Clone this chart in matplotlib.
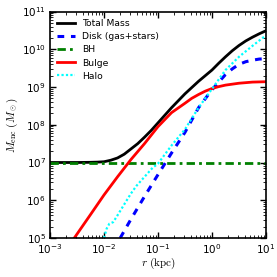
import numpy as np
import matplotlib
matplotlib.use("Agg")
import matplotlib.pyplot as plt

# log10(r / kpc) sample points and log10(M / Msun) values
total_logr = [-3.0, -2.5, -2.25, -2.125, -2.0, -1.875, -1.75, -1.625, -1.5, -1.375, -1.25, -1.125, -1.0,
              -0.75, -0.5, -0.25, 0.0, 0.125, 0.25, 0.375, 0.5, 0.625, 0.75, 0.875, 1.0]
total_logm = [7.0, 7.0, 7.005, 7.01, 7.02, 7.06, 7.12, 7.22, 7.36, 7.50, 7.67, 7.85, 8.05,
              8.45, 8.82, 9.15, 9.45, 9.63, 9.80, 9.96, 10.10, 10.22, 10.32, 10.41, 10.49]

disk_logr = [-1.70, -1.5, -1.25, -1.0, -0.75, -0.5, -0.25, 0.0, 0.25, 0.375, 0.5, 0.625, 0.75, 0.875, 1.0]
disk_logm = [5.0, 5.50, 6.10, 6.68, 7.25, 7.80, 8.45, 8.93, 9.33, 9.48, 9.60, 9.67, 9.71, 9.74, 9.75]

bh_logr = [-3.0, 1.0]
bh_logm = [7.0, 7.0]

bulge_logr = [-2.55, -2.25, -2.0, -1.75, -1.5, -1.25, -1.0, -0.75, -0.5, -0.375, -0.25, -0.125,
              0.0, 0.125, 0.25, 0.5, 0.75, 1.0]
bulge_logm = [5.0, 5.62, 6.14, 6.62, 7.08, 7.50, 7.95, 8.32, 8.57, 8.70, 8.80, 8.89,
              8.96, 9.01, 9.05, 9.10, 9.13, 9.14]

halo_logr = [-2.0, -1.95, -1.9, -1.83, -1.75, -1.6, -1.5, -1.4, -1.25, -1.1, -1.0, -0.75, -0.5, -0.25,
             0.0, 0.25, 0.5, 0.75, 1.0]
halo_logm = [5.0, 5.25, 5.38, 5.42, 5.60, 5.95, 6.18, 6.38, 6.62, 6.86, 6.97, 7.45, 7.88, 8.45,
             8.95, 9.45, 9.80, 10.09, 10.37]

labels = ["Total Mass", "Disk (gas+stars)", "BH", "Bulge", "Halo"]

plt.rcParams['mathtext.fontset'] = 'cm'

fig = plt.figure(figsize=(2.77, 2.77), dpi=100)
ax = fig.add_axes([50/277, 1-238/277, 216/277, (238-11.5)/277])

def pw(a):
    return 10.0 ** np.asarray(a)

ax.plot(pw(total_logr), pw(total_logm), color='black', lw=2.0, label=labels[0])
ax.plot(pw(disk_logr), pw(disk_logm), color='blue', lw=2.2, ls=(0, (2.2, 2.2)), label=labels[1])
ax.plot(pw(bh_logr), pw(bh_logm), color='green', lw=2.0, ls=(0, (3, 1.5, 1, 1.5)), label=labels[2])
ax.plot(pw(bulge_logr), pw(bulge_logm), color='red', lw=2.0, label=labels[3])
ax.plot(pw(halo_logr), pw(halo_logm), color='cyan', lw=1.6, ls=(0, (1, 1)), label=labels[4])

ax.set_xscale('log')
ax.set_yscale('log')
ax.set_xlim(1e-3, 1e1)
ax.set_ylim(1e5, 1e11)

ax.tick_params(which='both', direction='in', top=True, right=True, labelsize=7.5)
ax.tick_params(which='major', length=4, width=1, pad=3)
ax.tick_params(which='minor', length=2, width=0.6)
for s in ax.spines.values():
    s.set_linewidth(1.2)

ax.set_xlabel(r'$r\ \mathrm{(kpc)}$', fontsize=8, labelpad=0)
ax.set_ylabel(r'$M_{\mathrm{enc}}\ (M_\odot)$', fontsize=8, labelpad=1)

ax.legend(loc='upper left', frameon=False, fontsize=6.7, handlelength=1.9,
          handletextpad=0.7, labelspacing=0.45, borderaxespad=0.4)

fig.savefig('out.png', dpi=100)
